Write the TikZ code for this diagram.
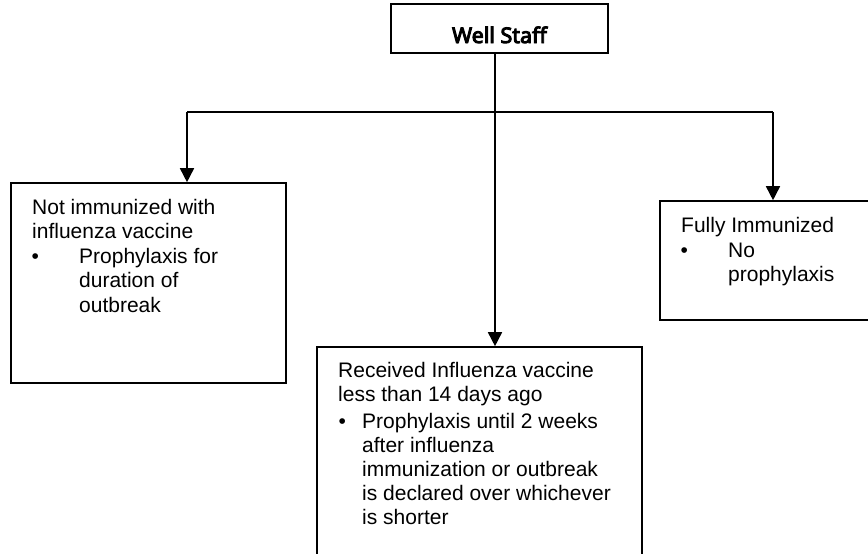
\documentclass[tikz,border=0pt]{standalone}
\usepackage{fontspec}
\setmainfont{Liberation Sans}
\newfontfamily\hdrfont{Noto Sans}[FakeBold=4.5]
\usetikzlibrary{arrows.meta}
\begin{document}
\begin{tikzpicture}[x=1pt,y=-1pt,
  box/.style={draw, line width=1.6pt, inner sep=0pt, rectangle},
  txt/.style={anchor=base west, inner sep=0pt, font=\fontsize{21}{24.5}\selectfont},
  hdr/.style={anchor=base, inner sep=0pt, font=\hdrfont\fontsize{21.5}{26}\selectfont},
  conn/.style={line width=1.6pt},
  arr/.style={conn, -{Triangle[width=14pt,length=14pt]}}]
\useasboundingbox (0,0) rectangle (868,554);
% boxes
\node[box, minimum width=217pt, minimum height=49pt] (top) at (499.5,28.5) {};
\node[box, minimum width=275pt, minimum height=200pt] (lbox) at (148.5,283) {};
\node[box, minimum width=210pt, minimum height=119pt] (rbox) at (765,260.5) {};
\node[box, minimum width=325pt, minimum height=215pt] (cbox) at (479.5,454.5) {};
% junction
\coordinate (j) at (495,112);
\coordinate (jl) at (187,112);
\coordinate (jr) at (773,112);
\draw[conn] (j |- top.south) -- (j);
\draw[conn] (jl) -- (jr);
\draw[arr] (jl) -- (jl |- lbox.north);
\draw[arr] (jr) -- (jr |- rbox.north);
\draw[arr] (j) -- (j |- cbox.north);
% texts
\node[hdr] (ttop) at (499.5,43) {Well Staff};
\node[txt] (l1) at (32,214) {Not immunized with};
\node[txt] (l2) at (32,238.5) {influenza vaccine};
\node[txt] (lb) at (31.3,263) {\textbullet};
\node[txt] (l3) at (79,263) {Prophylaxis for};
\node[txt] (l4) at (79,287.5) {duration of};
\node[txt] (l5) at (79,312) {outbreak};
\node[txt] (r1) at (681,232) {Fully Immunized};
\node[txt] (rb) at (680.3,257) {\textbullet};
\node[txt] (r2) at (728,257) {No};
\node[txt] (r3) at (728,281.5) {prophylaxis};
\node[txt] (c1) at (338,377) {Received Influenza vaccine};
\node[txt] (c2) at (338,401) {less than 14 days ago};
\node[txt] (cb) at (338.3,428) {\textbullet};
\node[txt] (c3) at (362,428) {Prophylaxis until 2 weeks};
\node[txt] (c4) at (362,452) {after influenza};
\node[txt] (c5) at (362,476.5) {immunization or outbreak};
\node[txt] (c6) at (362,500) {is declared over whichever};
\node[txt] (c7) at (362,524.5) {is shorter};
\end{tikzpicture}
\end{document}
